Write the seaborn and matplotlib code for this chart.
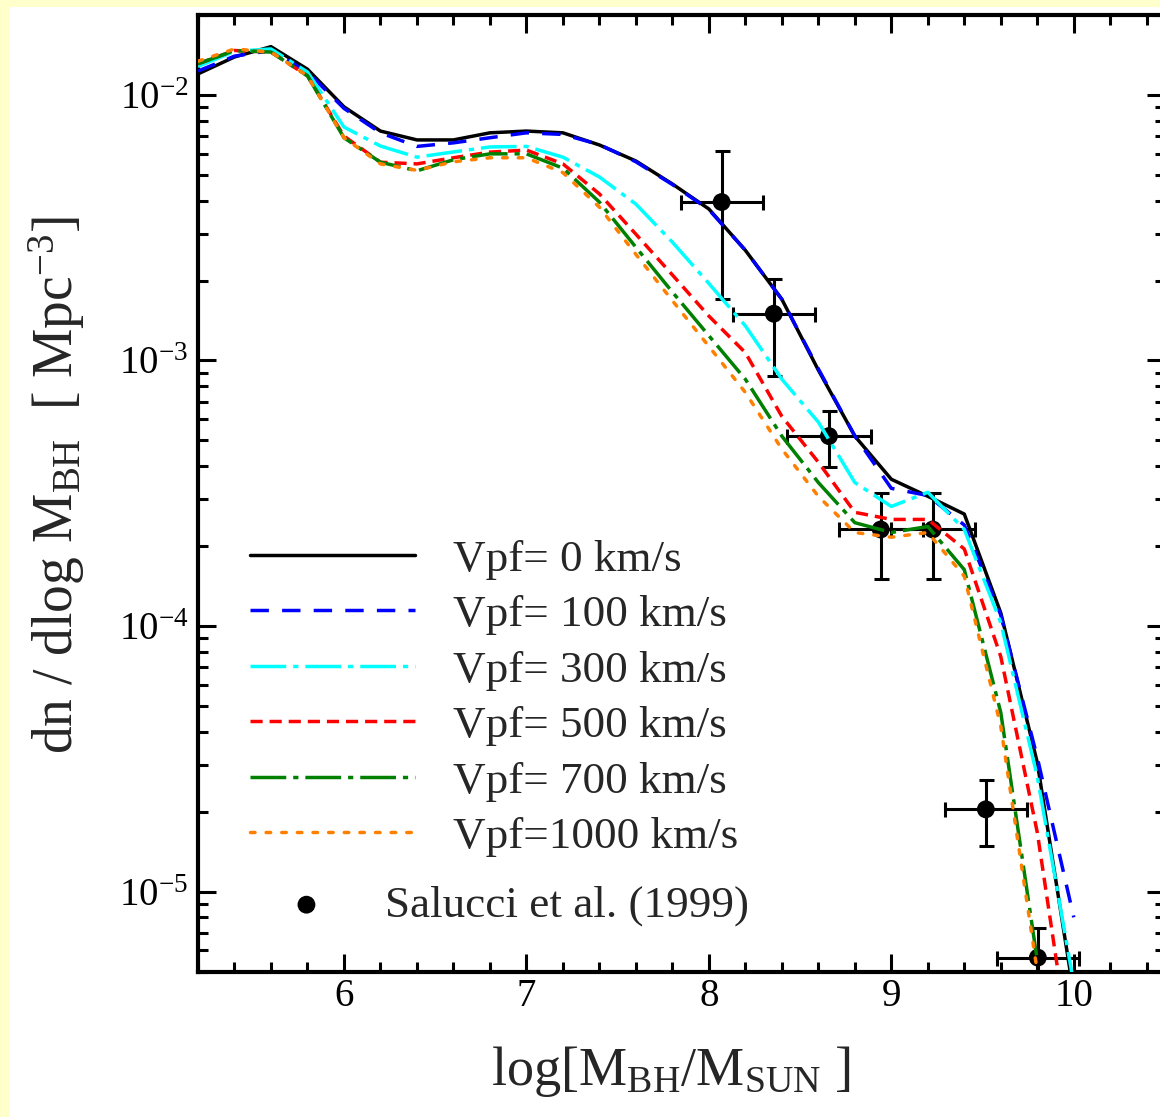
import numpy as np
import pandas as pd
import matplotlib
matplotlib.use("Agg")
import matplotlib.pyplot as plt
import seaborn as sns
from matplotlib.ticker import LogLocator, LogFormatterMathtext, MultipleLocator, NullFormatter
from matplotlib.patches import Rectangle

# ---------------- data ----------------
log_mass = [5.2, 5.4, 5.6, 5.8, 6.0, 6.2, 6.4, 6.6, 6.8, 7.0, 7.2, 7.4, 7.6,
            7.8, 8.0, 8.2, 8.4, 8.6, 8.8, 9.0, 9.2, 9.4, 9.6, 9.8, 10.0]

vpf_0 = [0.0120, 0.0139, 0.0152, 0.0125, 0.00902, 0.00731, 0.00677, 0.00677, 0.0072, 0.00731,
         0.0072, 0.00648, 0.00564, 0.00462, 0.00372, 0.0026, 0.0017, 9.2e-4, 5.19e-4, 3.57e-4,
         3.08e-4, 2.64e-4, 1.12e-4, 3.06e-5, 4.1e-6]
vpf_100 = [0.0123, 0.0140, 0.0147, 0.0122, 0.0089, 0.0072, 0.0064, 0.0066, 0.0069, 0.0072,
           0.0071, 0.0065, 0.0056, 0.0046, 0.0037, 0.0026, 0.0017, 9.3e-4, 5.2e-4, 3.3e-4,
           3.1e-4, 2.4e-4, 1.1e-4, 3.2e-5, 8.0e-6]
vpf_300 = [0.0128, 0.0146, 0.0149, 0.0122, 0.00757, 0.00642, 0.00583, 0.0061, 0.00637, 0.0064,
           0.00583, 0.00491, 0.00388, 0.00279, 0.00195, 0.00135, 8.5e-4, 5.86e-4, 3.47e-4, 2.82e-4,
           3.19e-4, 2.31e-4, 1.03e-4, 2.71e-5, 4.5e-6]
vpf_500 = [0.0131, 0.0147, 0.0145, 0.0118, 0.0070, 0.00558, 0.0055, 0.0058, 0.00609, 0.0062,
           0.0055, 0.00424, 0.00299, 0.0021, 0.00147, 0.00107, 6.16e-4, 4.14e-4, 2.68e-4, 2.52e-4,
           2.52e-4, 1.95e-4, 7.67e-5, 1.67e-5, 2.0e-6]
vpf_700 = [0.0131, 0.0147, 0.0145, 0.0118, 0.0069, 0.00558, 0.00518, 0.0057, 0.0060, 0.0060,
           0.0053, 0.00395, 0.00267, 0.00181, 0.00124, 8.5e-4, 5.19e-4, 3.47e-4, 2.45e-4, 2.25e-4,
           2.37e-4, 1.63e-4, 4.72e-5, 5.5e-6, np.nan]
vpf_1000 = [0.0134, 0.0149, 0.0145, 0.0118, 0.0069, 0.0055, 0.0052, 0.0056, 0.0058, 0.0058,
            0.0051, 0.00378, 0.00251, 0.00168, 0.00113, 7.58e-4, 4.64e-4, 3.08e-4, 2.25e-4, 2.16e-4,
            2.25e-4, 1.54e-4, 4.19e-5, 5.0e-6, np.nan]

series_labels = ["Vpf= 0 km/s", "Vpf= 100 km/s", "Vpf= 300 km/s",
                 "Vpf= 500 km/s", "Vpf= 700 km/s", "Vpf=1000 km/s"]

obs_x = [8.07, 8.356, 8.658, 8.942, 9.227, 9.518, 9.803]
obs_y = [3.95e-3, 1.50e-3, 5.19e-4, 2.31e-4, 2.31e-4, 2.04e-5, 5.64e-6]
obs_y_hi = [6.15e-3, 2.02e-3, 6.44e-4, 3.16e-4, 3.16e-4, 2.64e-5, 7.31e-6]
obs_y_lo = [1.70e-3, 8.73e-4, 3.96e-4, 1.50e-4, 1.50e-4, 1.49e-5, 4.0e-6]
obs_xerr = [0.225, 0.225, 0.23, 0.23, 0.23, 0.225, 0.225]
obs_label = "Salucci et al. (1999)"

# ---------------- style ----------------
sns.set_theme(style="ticks")
plt.rcParams["font.family"] = ["Liberation Serif", "DejaVu Serif"]
plt.rcParams["mathtext.fontset"] = "custom"
plt.rcParams["mathtext.rm"] = "Liberation Serif"
plt.rcParams["mathtext.it"] = "Liberation Serif:italic"
plt.rcParams["mathtext.bf"] = "Liberation Serif:bold"

colors = ["#000000", "#0000FF", "#00FFFF", "#FF0000", "#008000", "#FF8000"]
styles = ["-", (0, (5.3, 3.8)), (0, (10.3, 2.0, 1.5, 2.0)), (0, (3.5, 2.0)),
          (0, (10.3, 2.0, 1.5, 2.0)), (0, (1.3, 3.2))]
lw = 2.5

fig = plt.figure(figsize=(11.6, 11.17), dpi=100)
fig.patch.set_facecolor("#FFFFCC")
fig.add_artist(Rectangle((10 / 1160, 0), 1 - 10 / 1160, 1110 / 1117,
                         transform=fig.transFigure, facecolor="white",
                         edgecolor="none", zorder=-1))

W, H = 1160, 1117
L, R, T, B = 198, 1165, 15, 971.5
ax = fig.add_axes([L / W, (H - B) / H, (R - L) / W, (B - T) / H])
ax.set_facecolor("white")
ax.set_yscale("log")

# observed points with error bars
ax.errorbar(obs_x, obs_y, xerr=obs_xerr,
            yerr=[np.array(obs_y) - np.array(obs_y_lo), np.array(obs_y_hi) - np.array(obs_y)],
            fmt="none", ecolor="black", elinewidth=2.2, capsize=5.4, capthick=2.2, zorder=2)
sns.scatterplot(x=obs_x, y=obs_y, ax=ax, color="black", s=165, edgecolor="none",
                zorder=2.5, legend=False)
pt_handle = ax.collections[-1]

series = [vpf_0, vpf_100, vpf_300, vpf_500, vpf_700, vpf_1000]
line_handles = []
for vals, c, ls in zip(series, colors, styles):
    sns.lineplot(x=log_mass, y=vals, ax=ax, color=c, linewidth=lw, linestyle=ls,
                 zorder=3, legend=False)
    ln = ax.lines[-1]
    if c == "#FF8000":
        ln.set_dash_capstyle("round")
    line_handles.append(ln)

ax.set_xlim(5.2, 10.5)
ax.set_ylim(5e-6, 0.02)

ax.xaxis.set_major_locator(MultipleLocator(1))
ax.xaxis.set_minor_locator(MultipleLocator(0.2))
ax.yaxis.set_major_locator(LogLocator(base=10, numticks=20))
ax.yaxis.set_minor_locator(LogLocator(base=10, subs=np.arange(2, 10), numticks=100))
ax.yaxis.set_major_formatter(LogFormatterMathtext())
ax.yaxis.set_minor_formatter(NullFormatter())

ax.tick_params(which="both", direction="in", top=True, right=True, width=2.2,
               colors="black", labelsize=28)
ax.tick_params(which="major", length=13)
ax.tick_params(which="minor", length=7)
ax.tick_params(axis="x", pad=5)
ax.tick_params(axis="y", pad=7)
for sp in ax.spines.values():
    sp.set_linewidth(3)
    sp.set_color("black")

ax.set_xlabel(r"log[M$_{\mathrm{BH}}$/M$_{\mathrm{SUN}}$ ]", fontsize=39)
ax.set_ylabel(r"dn / dlog M$_{\mathrm{BH}}$  [ Mpc$^{\mathrm{-3}}$]", fontsize=40)
ax.xaxis.set_label_coords(0.489, -0.076)
ax.yaxis.set_label_coords(-0.115, 0.5086)

leg1 = ax.legend(handles=line_handles, labels=series_labels, loc="upper left",
                 bbox_to_anchor=(0.0538, 0.452), frameon=False, fontsize=32.5,
                 handlelength=3.65, handletextpad=0.85, labelspacing=0.33,
                 borderpad=0, borderaxespad=0)
ax.add_artist(leg1)
leg2 = ax.legend(handles=[pt_handle], labels=[obs_label], loc="upper left",
                 bbox_to_anchor=(0.0538, 0.0905), frameon=False, fontsize=32.5,
                 handlelength=2.5, handletextpad=0.5, borderpad=0, borderaxespad=0,
                 markerscale=1.0)

fig.savefig("out.png", dpi=100, facecolor=fig.get_facecolor())
